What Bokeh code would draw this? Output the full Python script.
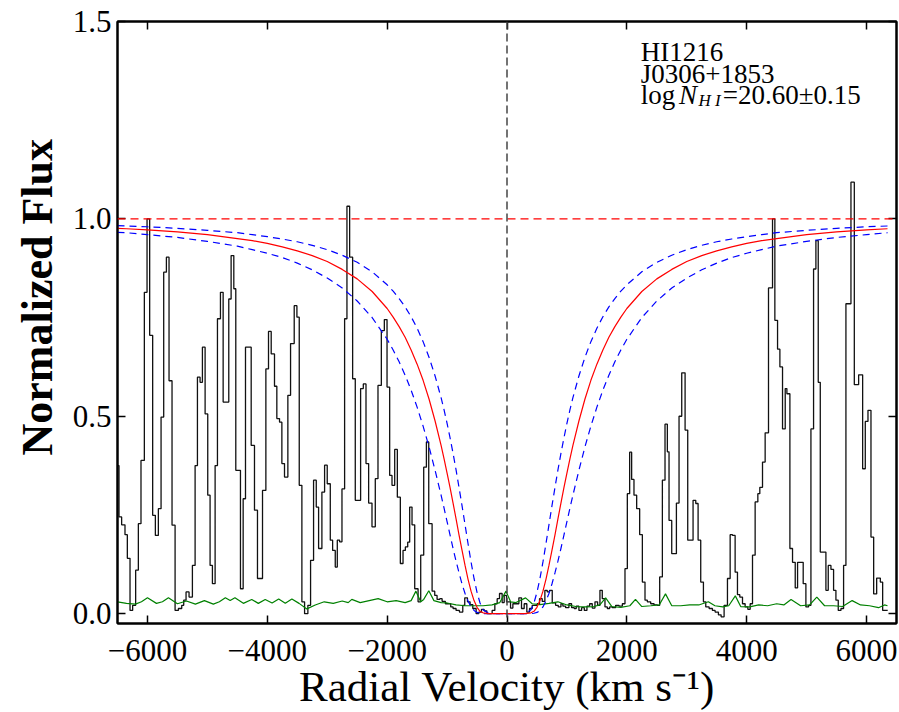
import math
from bokeh.plotting import figure
from bokeh.models import (Span, Label, Title, FixedTicker, CustomJSTickFormatter,
                          LinearAxis, Range1d)
from bokeh.embed import file_html
from bokeh.resources import INLINE

# ---------------- data ----------------
# observed spectrum: bin edges (km/s) and normalized flux per bin
vel_edges = [
    -6500, -6475, -6431, -6375, -6336, -6291, -6247, -6197, -6152, -6108,
    -6052, -6007, -5963, -5913, -5868, -5818, -5773, -5729, -5684, -5640,
    -5590, -5539, -5484, -5428, -5395, -5356, -5306, -5250, -5205, -5166,
    -5122, -5083, -5038, -4994, -4955, -4916, -4871, -4832, -4782, -4737,
    -4643, -4604, -4559, -4526, -4448, -4403,
    -4364, -4269, -4214, -4164, -4080, -4024, -3980, -3935, -3880, -3841,
    -3796, -3757, -3713, -3657, -3612, -3551, -3506, -3467, -3423, -3378,
    -3323, -3278, -3228, -3183, -3144, -3089, -3044, -3000, -2949, -2910,
    -2866, -2832, -2793, -2754, -2710, -2671, -2626, -2576, -2532, -2487,
    -2443, -2398, -2353, -2309, -2253, -2198,
    -2153, -2097, -2047, -2002, -1958, -1919, -1874, -1830, -1780, -1735,
    -1696, -1657, -1624, -1585, -1540, -1484, -1440, -1390, -1345, -1306,
    -1250, -1206, -1167, -1122, -1083, -1028, -983, -939, -900, -850,
    -794, -738, -705, -660, -616, -571, -515, -471, -426, -382,
    -337, -292, -248, -203, -164, -125, -81, -47,
    -8, 59, 98, 142, 198, 242, 287, 331, 376, 421,
    465, 504, 543, 588, 632, 671, 710, 755, 811, 855,
    900, 933, 978, 1033, 1078, 1122, 1156, 1200, 1245, 1290,
    1334, 1379, 1423, 1468, 1512, 1551, 1590, 1635, 1674, 1713,
    1757, 1813, 1869, 1925, 1969, 2008, 2047, 2080, 2119, 2164,
    2214, 2259, 2303, 2342, 2398, 2454, 2509, 2548, 2593, 2637,
    2676, 2704, 2749, 2827, 2871, 2916, 2972, 3016, 3105, 3150,
    3189, 3233, 3278, 3317, 3373, 3428, 3473, 3528, 3573, 3623,
    3679, 3724, 3763, 3807, 3846, 3885, 3930, 3974, 4019, 4058,
    4097, 4141, 4186, 4219, 4264, 4308,
    4364, 4431, 4470, 4515, 4554, 4598, 4643, 4671, 4721, 4765,
    4810, 4849, 4893, 4943, 4988, 5033, 5072, 5116, 5155, 5194,
    5228, 5322, 5361, 5406, 5450, 5489, 5528, 5573, 5617, 5656,
    5740, 5796, 5868, 5935, 5979, 6024, 6074, 6119, 6169, 6230,
    6269, 6353,
]
flux = [
    0.375, 0.245, 0.225, 0.200, 0.140, 0.008, 0.021, 0.110, 0.228, 0.388,
    0.814, 1.000, 0.705, 0.249, 0.198, 0.266, 0.498, 0.865, 0.903, 0.590,
    0.224, 0.008, 0.013, 0.021, 0.034, 0.055, 0.042, 0.122, 0.375, 0.599,
    0.586, 0.675, 0.506, 0.300, 0.122, 0.076, 0.375, 0.747, 0.814, 0.536,
    0.797, 0.907, 0.823, 0.363, 0.063, 0.291,
    0.675, 0.426, 0.262, 0.089, 0.312, 0.620, 0.715, 0.658, 0.576, 0.494,
    0.485, 0.380, 0.346, 0.553, 0.684, 0.780, 0.751, 0.325, 0.030, 0.000,
    0.021, 0.135, 0.338, 0.270, 0.165, 0.308, 0.376, 0.329, 0.186, 0.160,
    0.118, 0.186, 0.182, 0.316, 0.747, 1.032, 0.903, 0.595, 0.287, 0.287,
    0.570, 0.582, 0.380, 0.280, 0.220, 0.342,
    0.578, 0.717, 0.745, 0.574, 0.350, 0.325, 0.416, 0.295, 0.127, 0.160,
    0.169, 0.181, 0.270, 0.225, 0.063, 0.030, 0.148, 0.371, 0.435, 0.228,
    0.057, 0.046, 0.036, 0.038, 0.031, 0.025, 0.025, 0.017, 0.013, 0.008,
    0.004, 0.021, 0.040, 0.030, 0.023, 0.013, 0.000, 0.004, 0.011, 0.007,
    0.000, 0.000, 0.008, 0.025, 0.038, 0.051, 0.028, 0.046,
    0.030, 0.014, 0.025, 0.025, 0.040, 0.013, 0.025, 0.004, 0.013, 0.021,
    0.021, 0.025, 0.038, 0.031, 0.059, 0.055, 0.059, 0.027, 0.021, 0.017,
    0.025, 0.019, 0.015, 0.025, 0.015, 0.013, 0.019, 0.008, 0.015, 0.008,
    0.019, 0.025, 0.014, 0.030, 0.021, 0.059, 0.038, 0.017, 0.013, 0.017,
    0.015, 0.021, 0.019, 0.025, 0.114, 0.304, 0.409, 0.340, 0.300, 0.266,
    0.200, 0.080, 0.034, 0.030, 0.025, 0.022, 0.021, 0.093, 0.338, 0.480,
    0.410, 0.236, 0.152, 0.280, 0.500, 0.610, 0.465, 0.186, 0.287, 0.279,
    0.186, 0.080, 0.030, 0.017, 0.013, 0.008, 0.004, -0.003, -0.008, 0.021,
    0.089, 0.200, 0.198, 0.105, 0.048, 0.042, 0.025, 0.017, 0.011, 0.025,
    0.148, 0.283, 0.304, 0.320, 0.384, 0.458,
    0.825, 1.000, 0.743, 0.670, 0.625, 0.468, 0.570, 0.557, 0.165, 0.130,
    0.065, 0.130, 0.130, 0.076, 0.017, 0.021, 0.468, 0.873, 0.945, 0.586,
    0.156, 0.059, 0.122, 0.112, 0.059, 0.034, 0.008, 0.013, 0.122, 0.785,
    1.093, 0.580, 0.605, 0.367, 0.487, 0.515, 0.194, 0.050, 0.090, 0.080,
    0.008,
]

# flux error spectrum
err_vel = [
    -6500, -6350, -6200, -6100, -6000, -5850, -5750, -5650, -5500, -5350,
    -5200, -5050, -4900, -4800, -4700, -4620, -4540, -4400, -4260, -4150,
    -4035, -3920, -3810, -3700, -3590, -3470, -3340, -3200, -3050, -2900,
    -2750, -2650, -2590, -2450, -2300, -2150, -2000, -1850, -1700, -1600,
    -1520, -1440, -1390, -1305, -1220, -1100, -1000, -850, -700, -550,
    -400, -250, -120, -17, 60, 150, 310, 420, 550, 700,
    850, 1000, 1150, 1300, 1450, 1550, 1646, 1750, 1900, 2050,
    2144, 2250, 2400, 2540, 2645, 2750, 2900, 3050, 3200, 3360,
    3470, 3600, 3700, 3810, 3900, 4050, 4200, 4350, 4500, 4620,
    4740, 4900, 5050, 5170, 5300, 5450, 5600, 5760, 5900, 6050,
    6200, 6300, 6350,
]
err_flux = [
    0.030, 0.026, 0.024, 0.030, 0.040, 0.026, 0.030, 0.040, 0.025, 0.032,
    0.024, 0.033, 0.024, 0.030, 0.040, 0.033, 0.040, 0.026, 0.036, 0.026,
    0.036, 0.027, 0.037, 0.026, 0.037, 0.026, 0.012, 0.022, 0.030, 0.026,
    0.032, 0.028, 0.036, 0.028, 0.033, 0.038, 0.030, 0.033, 0.028, 0.033,
    0.057, 0.030, 0.036, 0.058, 0.033, 0.028, 0.027, 0.022, 0.020, 0.020,
    0.020, 0.022, 0.028, 0.057, 0.030, 0.028, 0.040, 0.025, 0.023, 0.026,
    0.030, 0.022, 0.018, 0.017, 0.018, 0.022, 0.040, 0.018, 0.016, 0.020,
    0.036, 0.018, 0.020, 0.022, 0.050, 0.020, 0.020, 0.022, 0.022, 0.030,
    0.020, 0.017, 0.020, 0.045, 0.018, 0.017, 0.022, 0.020, 0.025, 0.022,
    0.036, 0.020, 0.022, 0.042, 0.020, 0.020, 0.018, 0.033, 0.022, 0.020,
    0.015, 0.022, 0.020,
]

# damped Ly-alpha model profiles, read at |v| (symmetric about v = 0)
model_abs_vel = [
    300, 400, 450, 500, 550, 600, 650, 700, 750, 800,
    850, 900, 950, 1000, 1050, 1100, 1200, 1300, 1400, 1500,
    1600, 1700, 1800, 1900, 2000, 2250, 2500, 2750, 3000, 3250,
    3500, 3750, 4000, 4250, 4500, 5000, 5500, 6000, 6350,
]
# best fit, log N = 20.60
model_best = [
    0.000, 0.002, 0.006, 0.016, 0.033, 0.057, 0.087, 0.122, 0.160, 0.199,
    0.240, 0.280, 0.319, 0.356, 0.392, 0.426, 0.488, 0.543, 0.591, 0.632,
    0.668, 0.700, 0.727, 0.751, 0.773, 0.816, 0.848, 0.872, 0.892, 0.907,
    0.919, 0.929, 0.938, 0.945, 0.950, 0.960, 0.967, 0.972, 0.975,
]
# log N = 20.45
model_low = [
    0.000, 0.010, 0.027, 0.054, 0.089, 0.131, 0.177, 0.225, 0.273, 0.319,
    0.364, 0.406, 0.445, 0.482, 0.516, 0.547, 0.602, 0.649, 0.689, 0.723,
    0.752, 0.777, 0.798, 0.817, 0.833, 0.866, 0.890, 0.908, 0.922, 0.933,
    0.942, 0.949, 0.955, 0.960, 0.965, 0.971, 0.976, 0.980, 0.982,
]
# log N = 20.75
model_high = [
    0.000, 0.000, 0.001, 0.003, 0.008, 0.017, 0.032, 0.051, 0.075, 0.103,
    0.133, 0.165, 0.199, 0.233, 0.267, 0.300, 0.363, 0.422, 0.475, 0.523,
    0.566, 0.604, 0.638, 0.668, 0.695, 0.750, 0.792, 0.825, 0.850, 0.871,
    0.888, 0.902, 0.913, 0.922, 0.931, 0.943, 0.953, 0.960, 0.965,
]
# model values at the left plot edge (v = -6500)
edge_vel = -6500
edge_best, edge_low, edge_high = 0.976, 0.983, 0.966

continuum_level = 1.0
line_center = 0.0

x_ticks = [-6000, -4000, -2000, 0, 2000, 4000, 6000]
y_ticks = [0.0, 0.5, 1.0, 1.5]

x_label = "Radial Velocity (km s\u207b\u00b9)"
y_label = "Normalized Flux"
ann_line1 = "HI1216"
ann_line2 = "J0306+1853"
ann_log = "log"
ann_N = "N"
ann_sub = "H I"
ann_val = "=20.60\u00b10.15"

# full (two-sided) model curves
mvel = [edge_vel] + [-v for v in reversed(model_abs_vel)] + model_abs_vel
mbest = [edge_best] + model_best[::-1] + model_best
mlow = [edge_low] + model_low[::-1] + model_low
mhigh = [edge_high] + model_high[::-1] + model_high

# ---------------- figure ----------------
SERIF = "Liberation Serif"

p = figure(width=899, height=712,
           x_range=Range1d(-6500, 6500), y_range=Range1d(-0.025, 1.5),
           output_backend="svg", toolbar_location=None,
           min_border_left=117, min_border_right=3,
           min_border_top=21, min_border_bottom=89,
           background_fill_color="white", border_fill_color="white")
p.xgrid.visible = False
p.ygrid.visible = False
p.outline_line_color = "black"
p.outline_line_width = 2

xfmt = CustomJSTickFormatter(code="return tick < 0 ? '\u2212' + Math.abs(tick) : String(tick);")
yfmt = CustomJSTickFormatter(code="return tick.toFixed(1);")
blank = CustomJSTickFormatter(code="return '';")

def style_axis(ax):
    ax.axis_line_color = "black"
    ax.axis_line_width = 2
    ax.major_tick_in = 8
    ax.major_tick_out = 0
    ax.major_tick_line_color = "black"
    ax.major_tick_line_width = 1.5
    ax.minor_tick_line_color = None
    ax.major_label_text_font = SERIF
    ax.major_label_text_font_size = "31px"
    ax.major_label_text_color = "black"

xa = p.xaxis[0]
style_axis(xa)
xa.ticker = FixedTicker(ticks=x_ticks)
xa.formatter = xfmt
xa.major_label_standoff = 16
xa.axis_label = x_label
xa.axis_label_text_font = SERIF
xa.axis_label_text_font_style = "normal"
xa.axis_label_text_font_size = "43px"
xa.axis_label_text_color = "black"
xa.axis_label_standoff = -1

ya = p.yaxis[0]
style_axis(ya)
ya.ticker = FixedTicker(ticks=y_ticks)
ya.formatter = yfmt
ya.major_label_standoff = 6

top = LinearAxis(ticker=FixedTicker(ticks=x_ticks), formatter=blank)
style_axis(top)
top.major_label_text_font_size = "0px"
top.major_label_standoff = 0
p.add_layout(top, "above")

right = LinearAxis(ticker=FixedTicker(ticks=y_ticks), formatter=blank)
style_axis(right)
right.major_label_text_font_size = "0px"
right.major_label_standoff = 0
p.add_layout(right, "right")

# y-axis title, placed along the axis like the reference
p.add_layout(Title(text=y_label, align="left", offset=168, standoff=15,
                   vertical_align="bottom",
                   text_font=SERIF, text_font_style="bold",
                   text_font_size="44px", text_color="black"), "left")

# spectrum (histogram steps)
p.step(x=vel_edges, y=flux + [flux[-1]], mode="after",
       line_color="#111111", line_width=1.3)
# error spectrum
p.line(err_vel, err_flux, line_color="#008000", line_width=1.2)
# model +/- 0.15 dex
p.line(mvel, mlow, line_color="#0000ff", line_width=1.2, line_dash="7 5")
p.line(mvel, mhigh, line_color="#0000ff", line_width=1.2, line_dash="7 5")
# best model
p.line(mvel, mbest, line_color="#ff0000", line_width=1.2)

p.add_layout(Span(location=continuum_level, dimension="width",
                  line_color="#ff0000", line_width=1.2, line_dash="8 5"))
p.add_layout(Span(location=line_center, dimension="height",
                  line_color="#444444", line_width=1.5, line_dash="8 4"))

# annotation block
ann_font = "27px"
def ann(x, y, text, size=ann_font, style="normal"):
    p.add_layout(Label(x=x, y=y, text=text, text_font=SERIF,
                       text_font_style=style, text_font_size=size,
                       text_color="black", text_baseline="alphabetic"))

ann(2231, 1.4215, ann_line1)
ann(2231, 1.367, ann_line2)
ann(2231, 1.3136, ann_log)
ann(2871, 1.3136, ann_N, style="italic")
ann(3195, 1.2987, ann_sub, size="17px", style="italic")
ann(3601, 1.3136, ann_val)

open("out.html", "w").write(file_html(p, INLINE))
